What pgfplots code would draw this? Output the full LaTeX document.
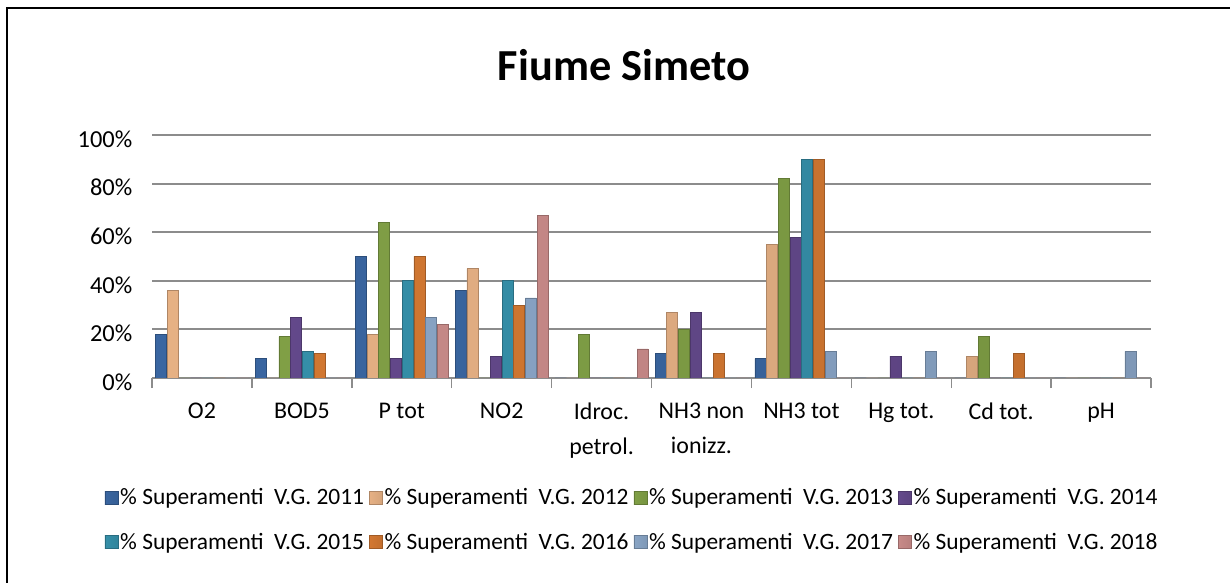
\documentclass[border=0pt]{standalone}
\usepackage{fontspec}
\setmainfont{Carlito}
\usepackage{pgfplots}
\pgfplotsset{compat=1.18}
\usepackage{pgfplotstable}
\definecolor{c11}{HTML}{3F6FAF}
\definecolor{c12}{HTML}{FAC090}
\definecolor{c13}{HTML}{8CAE4C}
\definecolor{c14}{HTML}{6C4F97}
\definecolor{c15}{HTML}{3A9CB8}
\definecolor{c16}{HTML}{E58236}
\definecolor{c17}{HTML}{95B3D7}
\definecolor{c18}{HTML}{D99694}
\definecolor{gridgray}{HTML}{8C8C8C}
\pgfplotstableread{
x a b c d e f g h
0 18 36 0 0 0 0 0 0
1 8 0 17 25 11 10 0 0
2 50 18 64 8 40 50 25 22
3 36 45 0 9 40 30 33 67
4 0 0 18 0 0 0 0 12
5 10 27 20 27 0 10 0 0
6 8 55 82 58 90 90 11 0
7 0 0 0 9 0 0 11 0
8 0 9 17 0 0 10 0 0
9 0 0 0 0 0 0 11 0
}\data
\pgfplotsset{cyl/.style={draw=#1!70!black, line width=0.6bp, left color=#1!92!black, middle color=#1!85!white, right color=#1!85!black}}
\begin{document}
\begin{tikzpicture}
\useasboundingbox (0,0) rectangle (1230bp,583bp);
\fill[white] (0,0) rectangle (1230bp,583bp);
\draw[line width=2bp] (7bp,0bp) -- (7bp,575bp) -- (1230bp,575bp);
\node[font=\fontsize{44.5}{52}\selectfont\bfseries] at (624bp,518bp) {Fiume Simeto};
\begin{axis}[
  at={(152bp,205bp)}, anchor=south west,
  scale only axis, width=999bp, height=243bp,
  xmin=-0.5, xmax=9.5, ymin=0, ymax=100,
  ybar=0.7bp, bar width=11bp,
  axis x line*=bottom, axis y line*=left,
  y axis line style={draw=none},
  x axis line style={gridgray, line width=2bp},
  xtick={0,...,9},
  xticklabels={O2,BOD5,P tot,NO2,{Idroc.\\petrol.},{NH3 non\\ionizz.},NH3 tot,Hg tot.,Cd tot.,pH},
  xticklabel style={align=center, font=\fontsize{24}{35}\selectfont, anchor=north, yshift=-17bp},
  major x tick style={draw=none},
  minor xtick={-0.5,0.5,...,9.5},
  minor x tick style={gridgray, line width=1.5bp},
  minor tick length=10bp,
  tick align=outside,
  ytick={0,20,...,100},
  ytick style={draw=none},
  yticklabel={\pgfmathprintnumber{\tick}\%},
  yticklabel style={font=\fontsize{24.5}{28}\selectfont, xshift=-12bp, yshift=-4bp},
  /pgf/number format/assume math mode=true,
  ymajorgrids, grid style={gridgray, line width=2bp},
  legend style={at={(0.4805,-0.584)}, anchor=center, draw=none, fill=none,
    font=\fontsize{23.5}{28}\selectfont, legend columns=4, row sep=23bp,
    nodes={inner sep=2bp},
    /tikz/every even column/.append style={column sep=3bp}},
  legend cell align=left,
  legend image code/.code={\fill[#1] (0bp,-6.5bp) rectangle (13bp,6.5bp);},
]
\addplot[cyl=c11] table[x=x,y=a]{\data};
\addplot[cyl=c12] table[x=x,y=b]{\data};
\addplot[cyl=c13] table[x=x,y=c]{\data};
\addplot[cyl=c14] table[x=x,y=d]{\data};
\addplot[cyl=c15] table[x=x,y=e]{\data};
\addplot[cyl=c16] table[x=x,y=f]{\data};
\addplot[cyl=c17] table[x=x,y=g]{\data};
\addplot[cyl=c18] table[x=x,y=h]{\data};
\legend{\% Superamenti\ \ V.G. 2011,\% Superamenti\ \ V.G. 2012,\% Superamenti\ \ V.G. 2013,\% Superamenti\ \ V.G. 2014,\% Superamenti\ \ V.G. 2015,\% Superamenti\ \ V.G. 2016,\% Superamenti\ \ V.G. 2017,\% Superamenti\ \ V.G. 2018}
\end{axis}
\end{tikzpicture}
\end{document}
